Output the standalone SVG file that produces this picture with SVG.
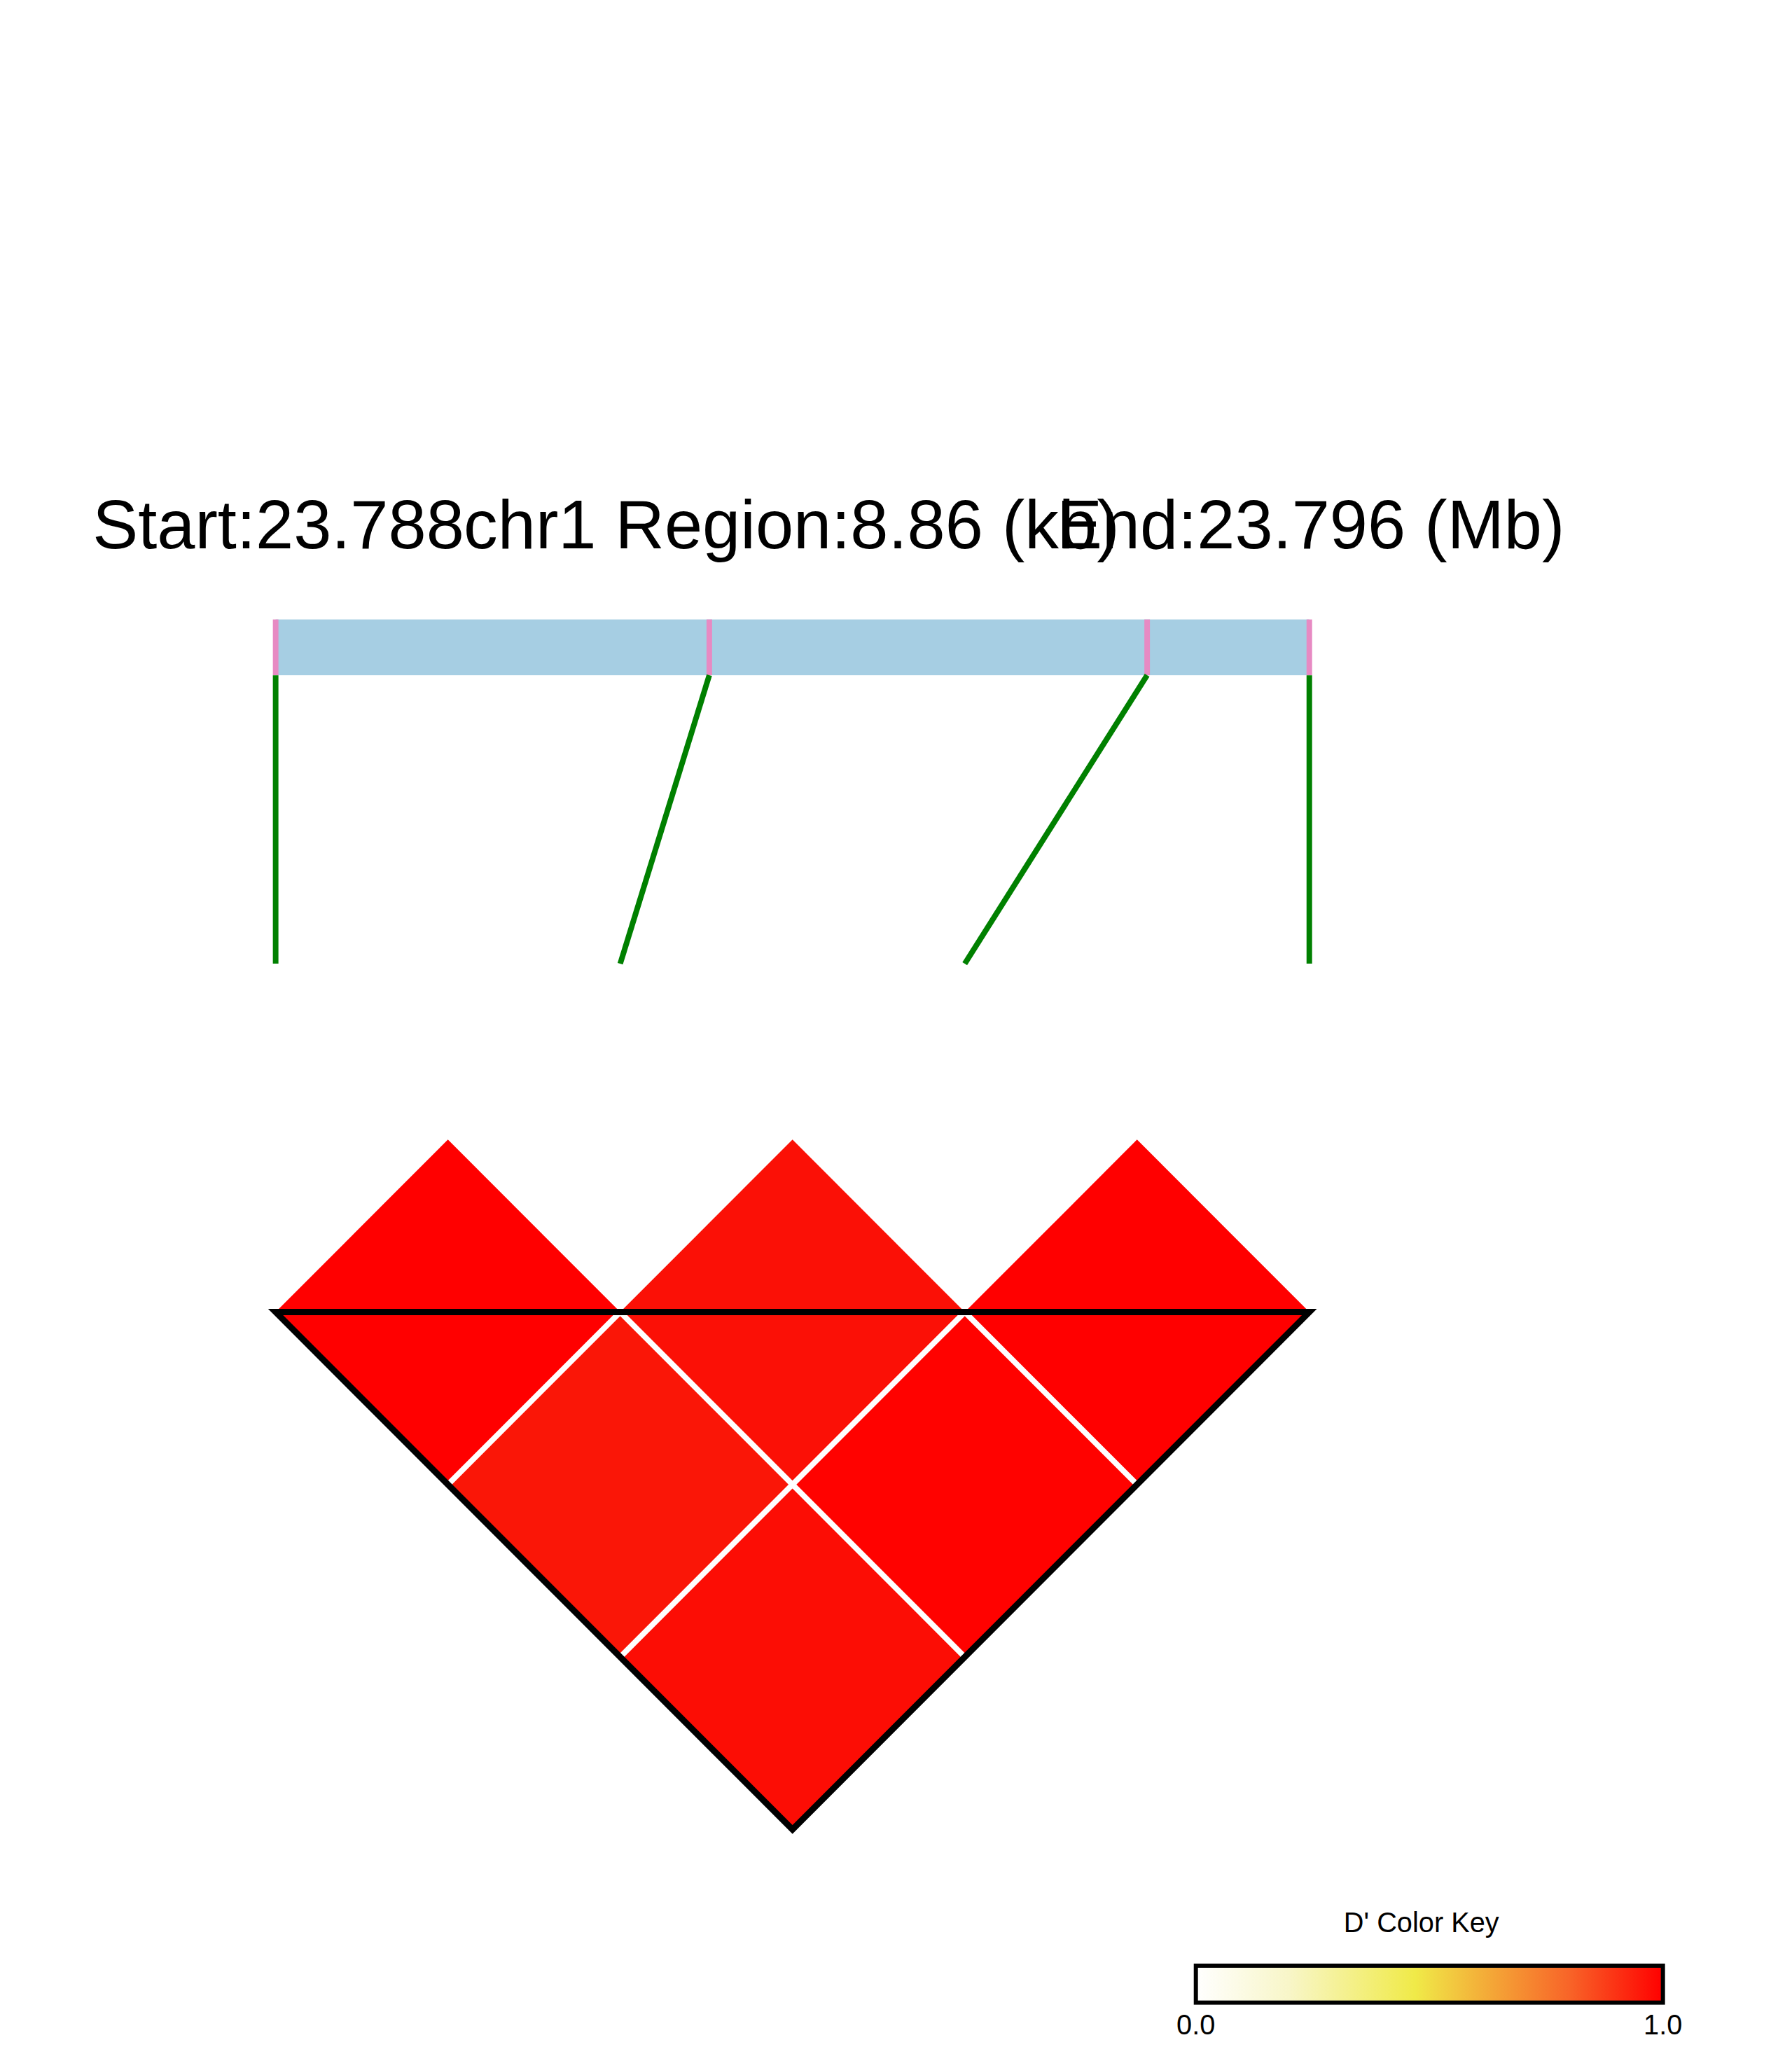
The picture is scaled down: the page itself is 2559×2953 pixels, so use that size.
<svg xmlns="http://www.w3.org/2000/svg" width="2559" height="2953" viewBox="0 0 2559 2953">
<style>
text{font-family:"Liberation Sans",Arial,sans-serif;fill:#000}
.t{font-size:98px}
.k{font-size:40px}
.g{stroke:#008000;stroke-width:8;fill:none}
.p{stroke:#E78AC3;stroke-width:8}
.w{stroke:#fff;stroke-width:8;fill:none}
</style>
<defs>
<linearGradient id="key" x1="0" x2="1" y1="0" y2="0">
<stop offset="0" stop-color="#FFFFFF"/>
<stop offset="0.2" stop-color="#F8F6C8"/>
<stop offset="0.47" stop-color="#F0EA48"/>
<stop offset="0.6" stop-color="#F3B43A"/>
<stop offset="0.8" stop-color="#F86428"/>
<stop offset="1" stop-color="#FF0000"/>
</linearGradient>
</defs>
<rect width="2559" height="2953" fill="#fff"/>
<g transform="matrix(0.994,0,0,0.995,2,0)">
<g id="title">
<text class="t" x="131" y="787">Start:23.788</text>
<text class="t" x="664" y="787">chr1 Region:8.86 (kb)</text>
<text class="t" x="1516" y="787">End:23.796 (Mb)</text>
</g>
<g id="region">
<rect x="394" y="889" width="1485" height="80" fill="#A6CEE3"/>
<line class="p" x1="394" y1="889" x2="394" y2="969"/>
<line class="p" x1="1017" y1="889" x2="1017" y2="969"/>
<line class="p" x1="1646" y1="889" x2="1646" y2="969"/>
<line class="p" x1="1879" y1="889" x2="1879" y2="969"/>
</g>
<g id="connectors">
<line class="g" x1="394" y1="969" x2="394" y2="1383"/>
<line class="g" x1="1017" y1="969" x2="889" y2="1383"/>
<line class="g" x1="1646" y1="969" x2="1384" y2="1383"/>
<line class="g" x1="1879" y1="969" x2="1879" y2="1383"/>
</g>
<g id="heatmap">
<polygon id="c01" points="641.5,1635.5 889,1883 641.5,2130.5 394,1883" fill="#FF0000"/>
<polygon id="c12" points="1136.5,1635.5 1384,1883 1136.5,2130.5 889,1883" fill="#FB1006"/>
<polygon id="c23" points="1631.5,1635.5 1879,1883 1631.5,2130.5 1384,1883" fill="#FF0000"/>
<polygon id="c02" points="889,1883 1136.5,2130.5 889,2378 641.5,2130.5" fill="#FA1607"/>
<polygon id="c13" points="1384,1883 1631.5,2130.5 1384,2378 1136.5,2130.5" fill="#FF0200"/>
<polygon id="c03" points="1136.5,2130.5 1384,2378 1136.5,2625.5 889,2378" fill="#FC0D05"/>
<path class="w" d="M889,1883 L641.5,2130.5 M889,1883 L1384,2378 M1384,1883 L889,2378 M1384,1883 L1631.5,2130.5"/>
<path d="M394,1883 H1879 L1136.5,2625.5 Z" fill="none" stroke="#000" stroke-width="9" stroke-linejoin="miter"/>
</g>
<g id="colorkey">
<text class="k" x="2040" y="2773" text-anchor="middle">D' Color Key</text>
<rect x="1716" y="2821" width="671" height="53" fill="url(#key)" stroke="#000" stroke-width="6"/>
<text class="k" x="1716" y="2920" text-anchor="middle">0.0</text>
<text class="k" x="2387" y="2920" text-anchor="middle">1.0</text>
</g>
</g>
</svg>
